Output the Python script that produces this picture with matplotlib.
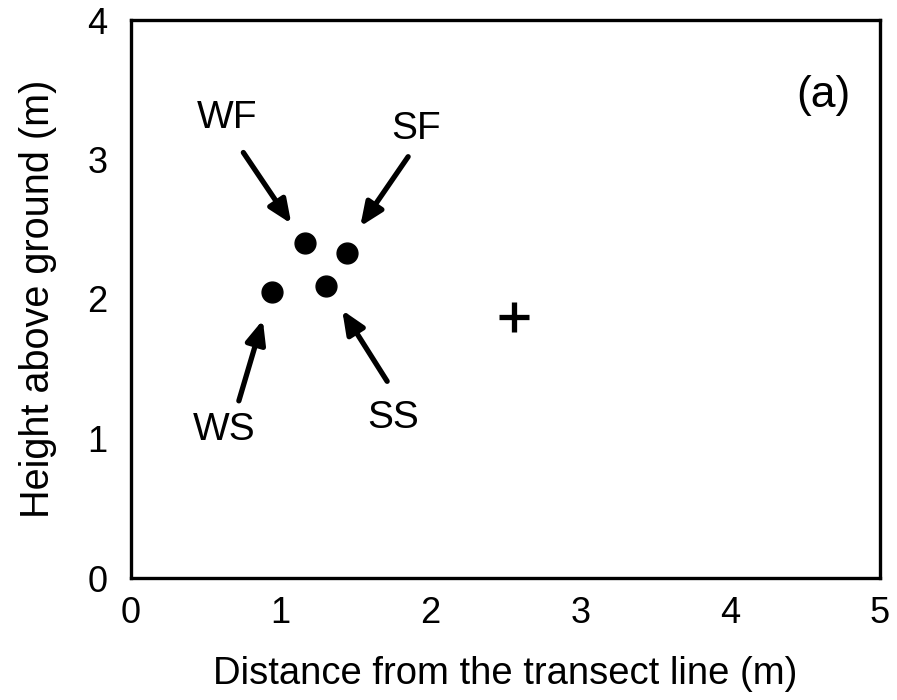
import matplotlib
matplotlib.use("Agg")
import matplotlib.pyplot as plt

plt.rcParams['font.family'] = ['Liberation Sans', 'DejaVu Sans']

# Data
labels = ["WF", "SF", "WS", "SS"]
x_pts = [1.16, 1.44, 0.94, 1.30]
y_pts = [2.40, 2.33, 2.05, 2.09]
plus_x = [2.56]
plus_y = [1.87]
# annotation text positions (data coords)
text_x = [0.64, 1.90, 0.62, 1.75]
text_y = [3.30, 3.22, 1.06, 1.15]
# arrow tail positions
tail_x = [0.75, 1.85, 0.72, 1.71]
tail_y = [3.05, 3.02, 1.27, 1.41]
# arrow head positions
head_x = [1.07, 1.53, 0.88, 1.41]
head_y = [2.54, 2.52, 1.85, 1.92]

fig = plt.figure(figsize=(8.97, 7.0), dpi=100)
ax = fig.add_axes([131/897, 1 - 578/700, (880-131)/897, (578-20)/700])

ax.plot(x_pts, y_pts, 'o', color='black', markersize=15, linestyle='none')
ax.plot(plus_x, plus_y, '+', color='black', markersize=21, markeredgewidth=3.8, linestyle='none')

for lab, tx, ty, ax0, ay0, hx, hy in zip(labels, text_x, text_y, tail_x, tail_y, head_x, head_y):
    ax.text(tx, ty, lab, fontsize=28, ha='center', va='center')
    ax.annotate('', xy=(hx, hy), xytext=(ax0, ay0),
                arrowprops=dict(arrowstyle='-|>,head_length=1.4,head_width=0.6',
                                color='black', lw=3.8, shrinkA=0, shrinkB=0))

ax.text(4.62, 3.46, "(a)", fontsize=32, ha='center', va='center')

ax.set_xlim(0, 5)
ax.set_ylim(0, 4)
ax.set_xticks([0, 1, 2, 3, 4, 5])
ax.set_yticks([0, 1, 2, 3, 4])
ax.tick_params(length=0, labelsize=26)
ax.tick_params(axis='x', pad=13)
ax.tick_params(axis='y', pad=17)
for s in ax.spines.values():
    s.set_linewidth(2.4)
ax.set_xlabel("Distance from the transect line (m)", fontsize=27.5, labelpad=18)
ax.set_ylabel("Height above ground (m)", fontsize=28.5, labelpad=22)

fig.savefig("out.png", dpi=100)
